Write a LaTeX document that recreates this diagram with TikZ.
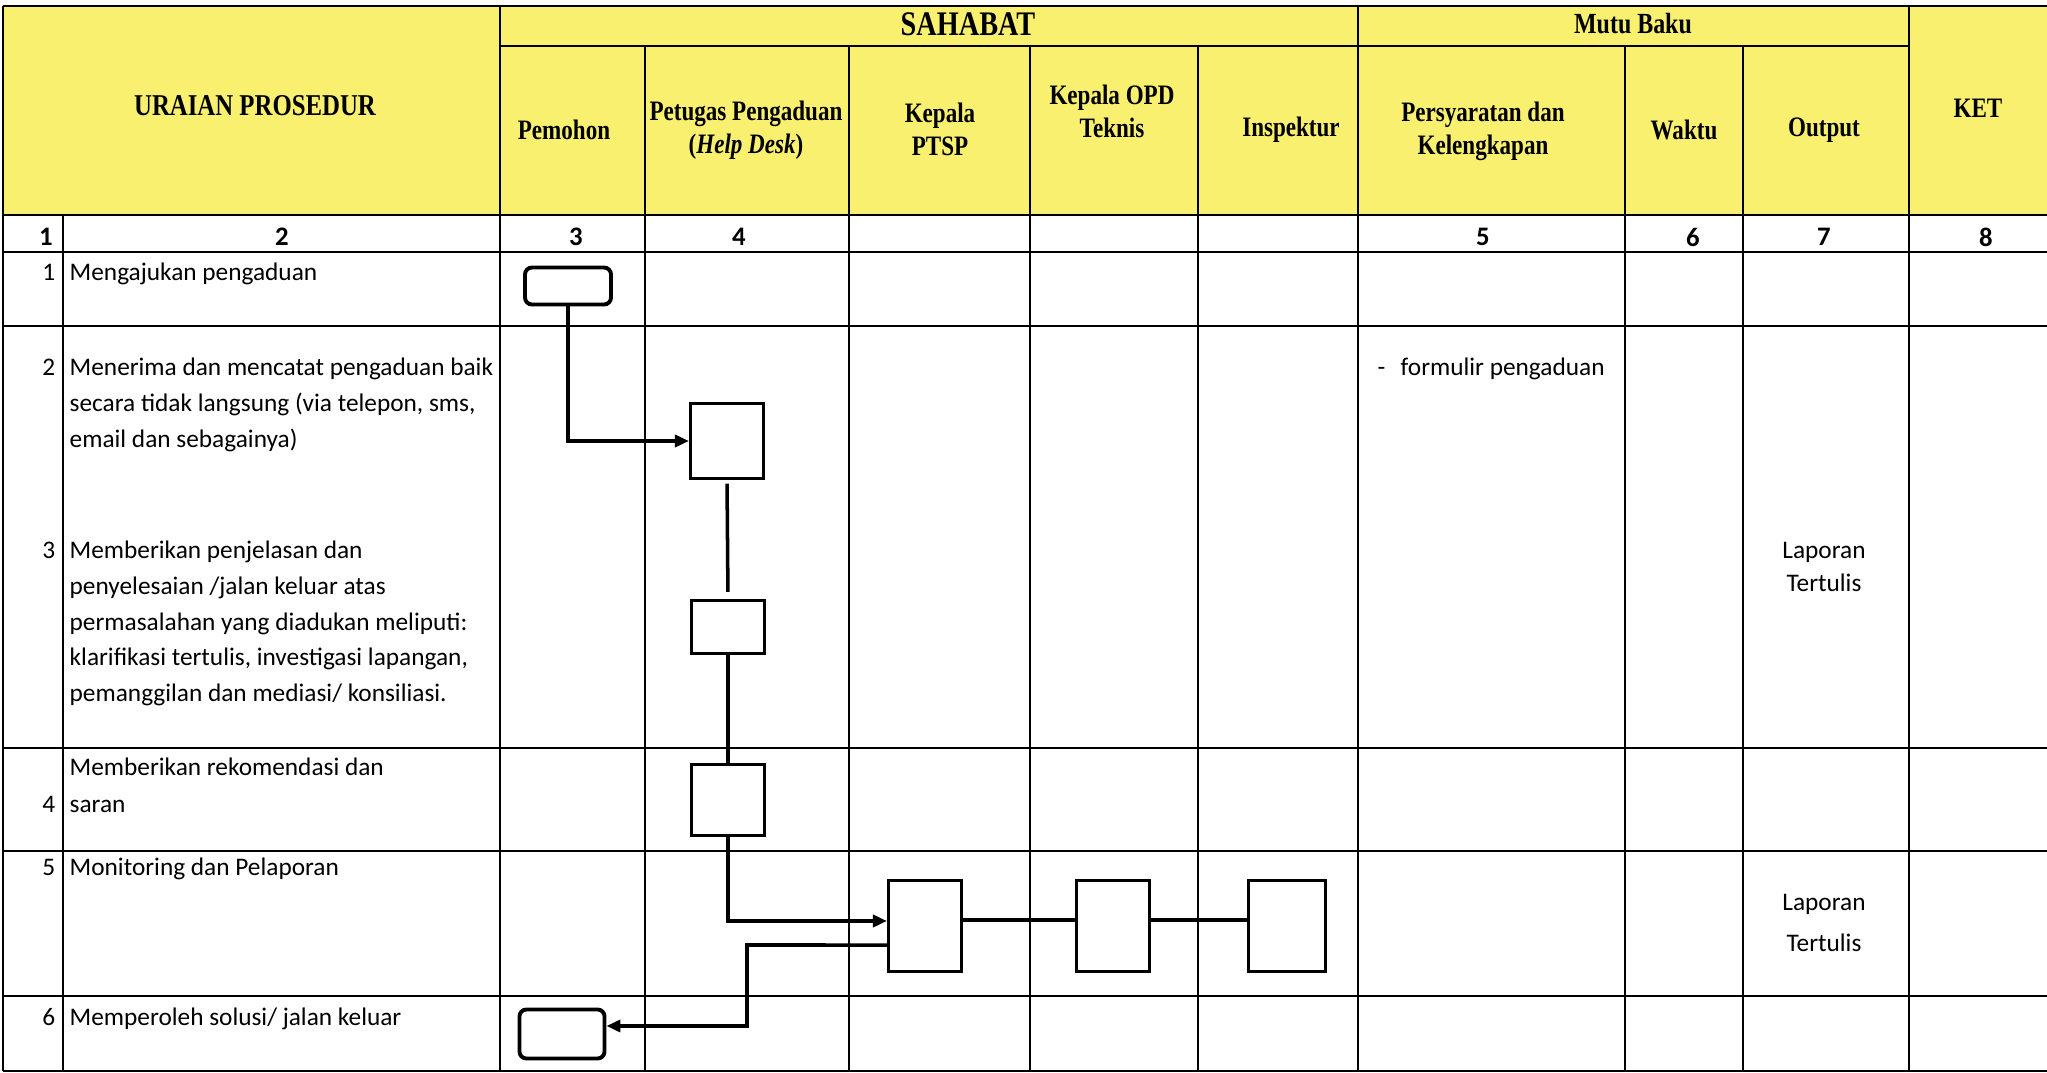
\documentclass[tikz,border=0pt]{standalone}
\usepackage{fontspec}
\setmainfont{Carlito}
\newfontfamily\hdrfont[FakeStretch=0.82]{Liberation Serif}
\usetikzlibrary{arrows.meta}
\definecolor{hdryellow}{RGB}{248,240,110}
\begin{document}
\begin{tikzpicture}[x=0.01cm,y=-0.01cm,
  grid/.style={line width=0.7pt},
  hdr/.style={font=\hdrfont\bfseries\fontsize{8}{9.4}\selectfont, align=center, inner sep=0},
  body/.style={font=\fontsize{7.2}{10.2}\selectfont, anchor=base west, inner sep=0},
  rownum/.style={font=\fontsize{7.2}{10.2}\selectfont, anchor=base east, inner sep=0},
  colnum/.style={font=\bfseries\fontsize{7.6}{9}\selectfont, inner sep=0},
  ctr/.style={font=\fontsize{7.2}{10.2}\selectfont, anchor=base, inner sep=0},
  act/.style={draw, line width=0.85pt, inner sep=0},
  term/.style={draw, line width=1.1pt, rounded corners=0.07cm, inner sep=0},
  flow/.style={line width=1pt},
  arr/.style={flow, -{Triangle[length=0.14cm,width=0.12cm]}}
]
\useasboundingbox (0,0) rectangle (2047,1073);
% header fill
\fill[hdryellow] (3,6) rectangle (2047,215);
% horizontal lines
\draw[grid] (3,6) -- (2047,6);
\draw[grid] (500,46) -- (1909,46);
\foreach \yy in {215,252,326,748,851,996,1071}
  \draw[grid] (3,\yy) -- (2047,\yy);
% vertical lines
\draw[grid] (3,6) -- (3,1071);
\draw[grid] (63,215) -- (63,1071);
\foreach \xx in {500,1358,1909}
  \draw[grid] (\xx,6) -- (\xx,1071);
\foreach \xx in {645,849,1030,1198,1625,1743}
  \draw[grid] (\xx,46) -- (\xx,1071);

% header texts
\node[hdr, font=\hdrfont\bfseries\fontsize{8.6}{9.4}\selectfont] (hUraian) at (255,106) {URAIAN PROSEDUR};
\node[hdr, font=\hdrfont\bfseries\fontsize{9.8}{11}\selectfont] (hSahabat) at (968,24) {SAHABAT};
\node[hdr, font=\hdrfont\bfseries\fontsize{8.3}{9.4}\selectfont] (hMutu) at (1633,24) {Mutu Baku};
\node[hdr] (hPemohon) at (564,130) {Pemohon};
\node[hdr] (hPetugas) at (746,130) {Petugas Pengaduan\\(\textit{Help Desk})};
\node[hdr] (hPTSP) at (940,129) {Kepala\\PTSP};
\node[hdr] (hOPD) at (1112,111) {Kepala OPD\\Teknis};
\node[hdr] (hInsp) at (1291,130) {Inspektur};
\node[hdr] (hSyarat) at (1483,131) {Persyaratan dan\\Kelengkapan};
\node[hdr] (hWaktu) at (1684,130) {Waktu};
\node[hdr] (hOutput) at (1824,130) {Output};
\node[hdr] (hKet) at (1978,108) {KET};

% column numbers
\node[colnum] (c1) at (46,237) {1};
\node[colnum] (c2) at (282,237) {2};
\node[colnum] (c3) at (576,237) {3};
\node[colnum] (c4) at (739,237) {4};
\node[colnum] (c5) at (1483,237) {5};
\node[colnum] (c6) at (1693,237) {6};
\node[colnum] (c7) at (1824,237) {7};
\node[colnum] (c8) at (1986,237) {8};

% row numbers
\node[rownum] (n1) at (56,281) {1};
\node[rownum] (n2) at (56,376) {2};
\node[rownum] (n3) at (56,558) {3};
\node[rownum] (n4) at (56,812) {4};
\node[rownum] (n5) at (56,875) {5};
\node[rownum] (n6) at (56,1025) {6};

% procedure texts
\node[body] (t1) at (69,281) {Mengajukan pengaduan};
\node[body] (t2a) at (69,376) {Menerima dan mencatat pengaduan baik};
\node[body] (t2b) at (69,412) {secara tidak langsung (via telepon, sms,};
\node[body] (t2c) at (69,448) {email dan sebagainya)};
\node[body] (t3a) at (69,558) {Memberikan penjelasan dan};
\node[body] (t3b) at (69,594) {penyelesaian /jalan keluar atas};
\node[body] (t3c) at (69,630) {permasalahan yang diadukan meliputi:};
\node[body] (t3d) at (69,666) {klarifikasi tertulis, investigasi lapangan,};
\node[body] (t3e) at (69,702) {pemanggilan dan mediasi/ konsiliasi.};
\node[body] (t4a) at (69,775) {Memberikan rekomendasi dan};
\node[body] (t4b) at (69,812) {saran};
\node[body] (t5) at (69,875) {Monitoring dan Pelaporan};
\node[body] (t6) at (69,1025) {Memperoleh solusi/ jalan keluar};

% mutu baku texts
\node[body] (dash) at (1377,376) {-};
\node[body] (form) at (1400,376) {formulir pengaduan};
\node[ctr] (out1a) at (1824,558) {Laporan};
\node[ctr] (out1b) at (1824,592) {Tertulis};
\node[ctr] (out2a) at (1824,910) {Laporan};
\node[ctr] (out2b) at (1824,951) {Tertulis};

% flow shapes
\node[term, minimum width=0.86cm, minimum height=0.37cm] (p1) at (568,286) {};
\node[act, minimum width=0.73cm, minimum height=0.74cm] (b1) at (727,441) {};
\node[act, minimum width=0.73cm, minimum height=0.53cm] (b2) at (728,627) {};
\node[act, minimum width=0.73cm, minimum height=0.71cm] (b3) at (728,800) {};
\node[act, minimum width=0.73cm, minimum height=0.91cm] (b4) at (925,926) {};
\node[act, minimum width=0.73cm, minimum height=0.91cm] (b5) at (1113,926) {};
\node[act, minimum width=0.76cm, minimum height=0.91cm] (b6) at (1287,926) {};
\node[term, minimum width=0.85cm, minimum height=0.49cm] (p2) at (562,1034) {};

% connectors
\draw[arr] (p1.south) |- (b1.west);
\draw[flow, shorten <=0.04cm, shorten >=0.07cm] (b1.south) -- (b2.north);
\draw[flow] (b2.south) -- (b3.north);
\draw[arr] (b3.south) |- ([yshift=0.05cm]b4.west);
\draw[flow] ([yshift=0.06cm]b4.east) -- ([yshift=0.06cm]b5.west);
\draw[flow] ([yshift=0.06cm]b5.east) -- ([yshift=0.06cm]b6.west);
\coordinate (turn) at (747,945);
\draw[arr] ([yshift=-0.19cm]b4.west) -- (turn) |- ([yshift=0.08cm]p2.east);
\end{tikzpicture}
\end{document}
